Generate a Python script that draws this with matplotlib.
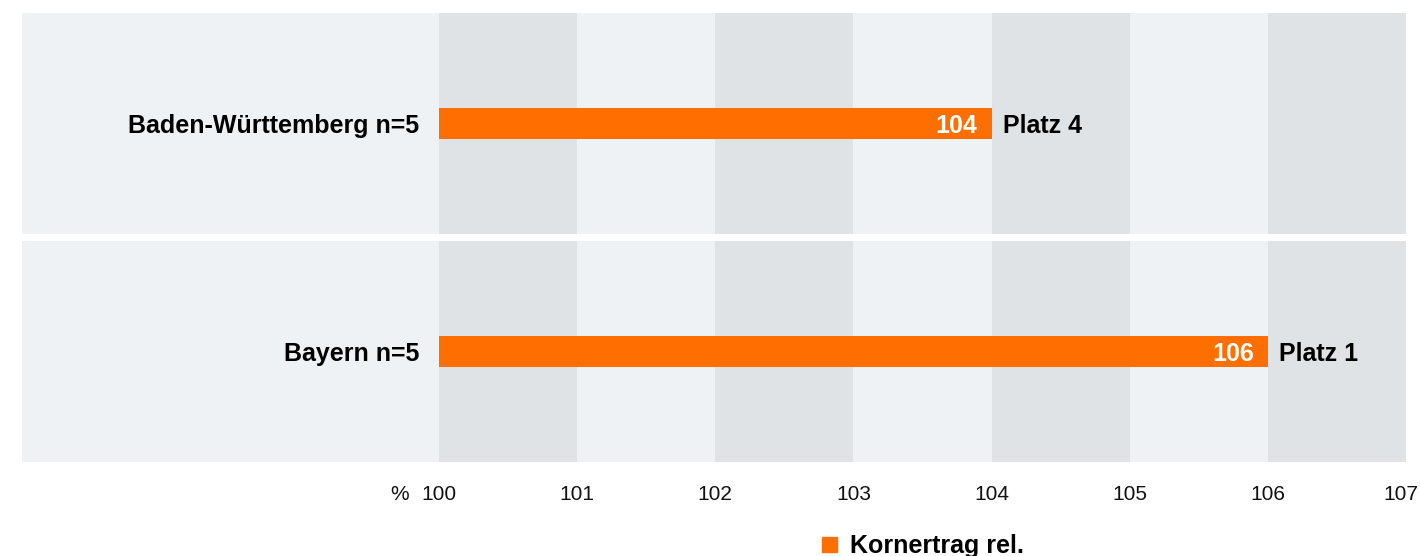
import matplotlib
matplotlib.use('Agg')
import matplotlib.pyplot as plt
from matplotlib.patches import Rectangle
from matplotlib.transforms import offset_copy

plt.rcParams['font.family'] = ['Liberation Sans', 'DejaVu Sans']

# data
regions = ['Baden-Württemberg n=5', 'Bayern n=5']
values = [104, 106]
ranks = ['Platz 4', 'Platz 1']
ticks = [100, 101, 102, 103, 104, 105, 106, 107]
legend_label = 'Kornertrag rel.'

ORANGE = '#ff6e00'
LIGHT = '#eef2f5'
DARK = '#dfe3e6'

fig = plt.figure(figsize=(14.2, 5.56), dpi=100)
W, H = 1420, 556
# axes spans the grey panels; 100 sits at px 439, 107 at px 1406
px_per_unit = (1406 - 439) / 7
x_left = 100 - (439 - 22) / px_per_unit
ax = fig.add_axes([22 / W, 1 - 462 / H, (1406 - 22) / W, (462 - 13) / H])
ax.set_xlim(x_left, 107)
ax.set_ylim(0, 2)
ax.axis('off')


def shifted(dx, base=None):
    return offset_copy(base if base is not None else ax.transData, fig=fig, x=dx, y=0, units='dots')


gap = 2 * 7 / 449
bar_h = 2 * 31 / 449
n = len(regions)
for i, (name, val, rank) in enumerate(zip(regions, values, ranks)):
    row = n - 1 - i
    y0 = row + (gap / 2 if row > 0 else 0)
    y1 = row + 1 - (gap / 2 if row < n - 1 else 0)
    ax.add_patch(Rectangle((x_left, y0), 107 - x_left, y1 - y0, color=LIGHT, lw=0, zorder=0))
    for k in range(0, len(ticks) - 1, 2):
        ax.add_patch(Rectangle((ticks[k], y0), 1, y1 - y0, color=DARK, lw=0, zorder=1))
    yc = (y0 + y1) / 2
    ax.barh(yc, val - ticks[0], left=ticks[0], height=bar_h, color=ORANGE, zorder=2)
    ax.text(val, yc - 0.01, str(val), ha='right', va='center', color='white',
            fontsize=18, fontweight='bold', zorder=3, transform=shifted(-14))
    ax.text(val, yc - 0.01, rank, ha='left', va='center', color='black',
            fontsize=18, fontweight='bold', zorder=3, transform=shifted(11))
    ax.text(ticks[0], yc - 0.01, name, ha='right', va='center', color='black',
            fontsize=18, fontweight='bold', zorder=3, transform=shifted(-20))

# tick labels below the panels (in axes-fraction y)
pos = ax.get_position()
tick_y = ((1 - 494 / H) - pos.y0) / pos.height
xform = ax.get_xaxis_transform()
for t in ticks:
    ha, dx = ('right', 12) if t == ticks[-1] else ('center', 0)
    ax.text(t, tick_y, str(t), ha=ha, va='center', fontsize=15, color='#111111',
            transform=shifted(dx, xform), clip_on=False)
ax.text(ticks[0], tick_y, '%', ha='right', va='center', fontsize=15, color='#111111',
        transform=shifted(-30, xform), clip_on=False)

# legend
fig.patches.append(Rectangle((822 / W, 1 - 552 / H), 15 / W, 15 / H, color=ORANGE,
                             transform=fig.transFigure, figure=fig))
fig.text(850 / W, 1 - 546 / H, legend_label, ha='left', va='center',
         fontsize=18, fontweight='bold', color='black')

fig.savefig('out.png', dpi=100, facecolor='white')
